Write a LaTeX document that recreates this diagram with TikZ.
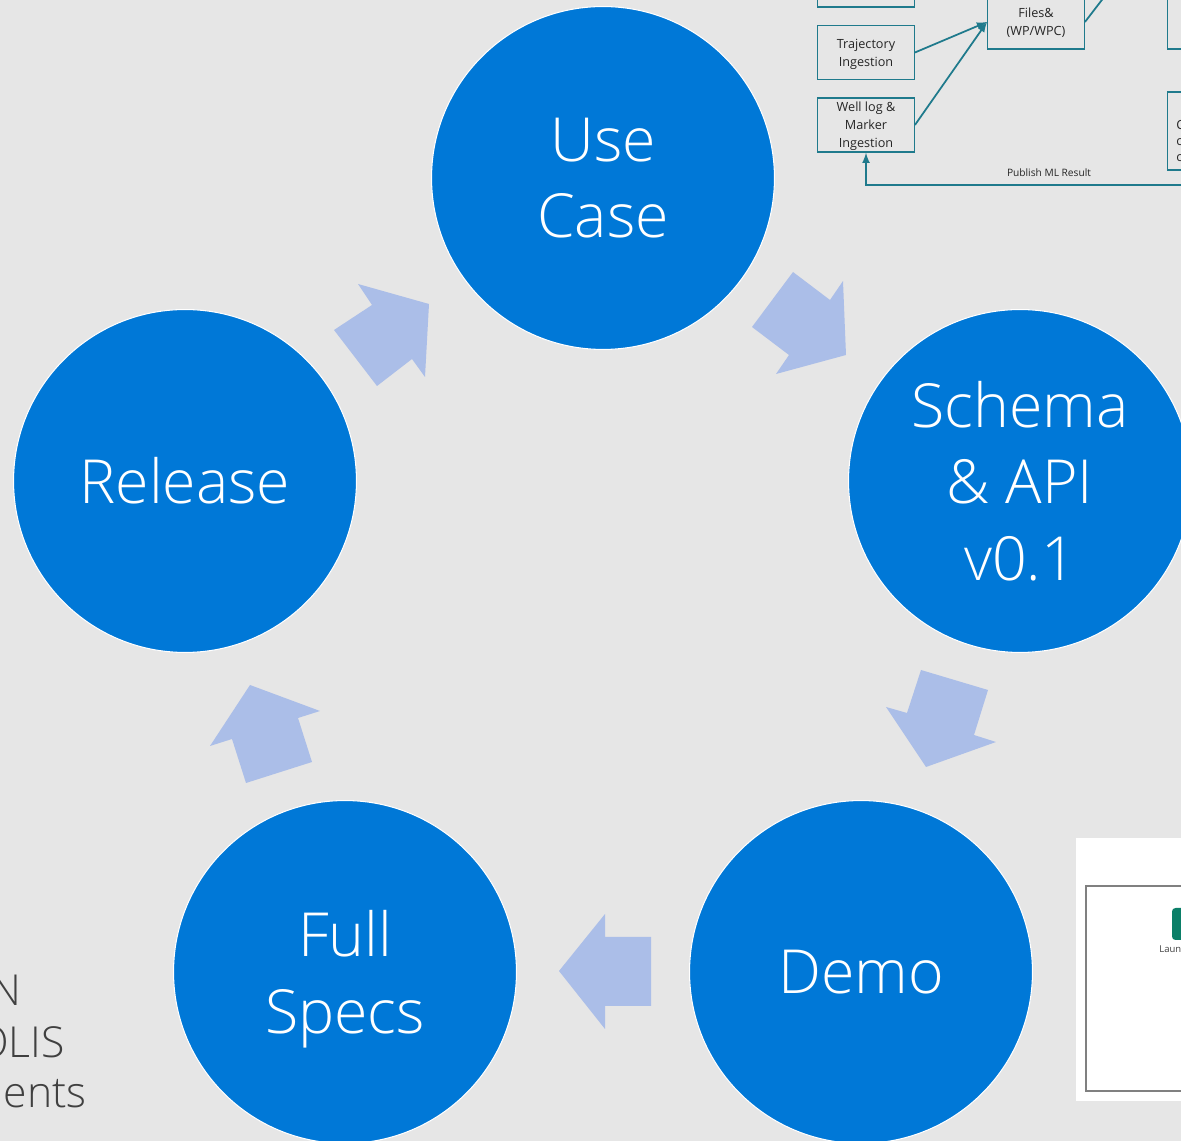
\documentclass[tikz,border=0pt]{standalone}
\usepackage{fontspec}
\usepackage{xcolor}
\setmainfont{Open Sans}
\newfontfamily\lightfont{Open Sans}[UprightFont=* Light]
\usetikzlibrary{
    arrows,
    positioning
}
\definecolor{slidegray}{HTML}{E6E6E6}
\definecolor{stepblue}{HTML}{0078D7}
\definecolor{flowblue}{HTML}{ABBEE8}
\definecolor{inkteal}{HTML}{1F7A8C}
\definecolor{launchgreen}{HTML}{0B7F68}
\tikzset{stage/.style={circle, draw=white, line width=0.6pt, fill=stepblue, text=white,
    minimum size=6.86cm, inner sep=0pt, align=center, font=\lightfont\fontsize{34.6}{43.6}\selectfont}}
\tikzset{flow/.style={fill=flowblue}}
\tikzset{ingest/.style={draw=inkteal, line width=0.8pt, minimum width=1.93cm, minimum height=1.08cm,
    inner sep=0pt, align=center, text=black!85, font=\fontsize{7.2}{10.2}\selectfont}}
\tikzset{sidetext/.style={anchor=east, inner sep=0pt, text=black!75, font=\lightfont\fontsize{24.3}{24}\selectfont}}

\begin{document}
\begin{tikzpicture}[x=0.02cm, y=-0.02cm]
    \path[use as bounding box, clip] (0, 0) rectangle (1181, 1141);
    \fill[slidegray] (0, 0) rectangle (1181, 1141);

    % pasted flow chart, top right
    \node[ingest] (top) at (866, -20) {};
    \node[ingest] (traj) at (866, 52.5) {Trajectory\\\smash{Ingestion}};
    \node[ingest] (well) at (866, 125) {Well log \&\\Marker\\\smash{Ingestion}};
    \node[ingest] (files) at (1036, 22) {Files\&\\\smash{(WP/WPC)}};
    \node[ingest] (upper) at (1216, 22) {};
    \node[ingest, minimum height=1.56cm] (lower) at (1216, 131) {};
    \node[text=black!85, font=\fontsize{7.2}{9}\selectfont, align=left, anchor=west, inner sep=0pt] (cut) at (1176, 141) {C\\c\\c};
    \node[text=black!85, font=\fontsize{5.8}{7}\selectfont, inner sep=0pt] (publish) at (1049, 173) {Publish ML Result};
    \coordinate (fileout) at (1108, -8);
    \coordinate (pubin) at (1190, 185);
    \draw[inkteal, line width=1pt, -latex] (traj.east) -- (files.west);
    \draw[inkteal, line width=1pt, -latex] (well.east) -- (files.west);
    \draw[inkteal, line width=1pt] (files.east) -- (fileout);
    \draw[inkteal, line width=1pt, -latex] (pubin) -| (well.south);

    % pasted screenshot, bottom right
    \fill[white] (1076, 838) rectangle (1190, 1101);
    \draw[black!50, line width=0.6pt] (1190, 886) -- (1086, 886) -- (1086, 1091) -- (1190, 1091);
    \fill[launchgreen, rounded corners=2pt] (1172, 908) rectangle (1200, 940);
    \node[text=black!75, font=\fontsize{5.4}{7}\selectfont, anchor=west, inner sep=0pt] (launch) at (1159, 949) {Laun};

    % text cut by the left edge
    \node[sidetext] (lineone) at (22, 990) {N};
    \node[sidetext] (linetwo) at (65, 1042) {OLIS};
    \node[sidetext] (linethree) at (87, 1094) {nents};

    \node[stage] (usecase) at (603, 178) {Use\\Case};
    \node[stage] (schema) at (1020, 481) {Schema\\\&~API\\v0.1};
    \node[stage] (demo) at (861, 972) {Demo};
    \node[stage] (specs) at (345, 972) {Full\\\smash{Specs}};
    \node[stage] (release) at (185, 481) {Release};

    % block arrows between the stages
    \fill[flow] (793, 272) -- (830, 300) -- (843, 281) -- (846, 355) -- (776, 374) -- (789, 355) -- (752, 327) -- cycle;
    \fill[flow] (921, 670) -- (988, 690) -- (974, 735) -- (996, 742) -- (926, 767) -- (886, 707) -- (907, 713) -- cycle;
    \fill[flow] (651, 937) -- (651, 1006) -- (605, 1006) -- (605, 1029) -- (559, 971) -- (605, 914) -- (605, 937) -- cycle;
    \fill[flow] (312, 762) -- (246, 783) -- (232, 739) -- (210, 746) -- (250, 685) -- (320, 711) -- (298, 718) -- cycle;
    \fill[flow] (334, 330) -- (377, 386) -- (412, 359) -- (425, 377) -- (429, 304) -- (358, 284) -- (372, 305) -- cycle;
\end{tikzpicture}
\end{document}
